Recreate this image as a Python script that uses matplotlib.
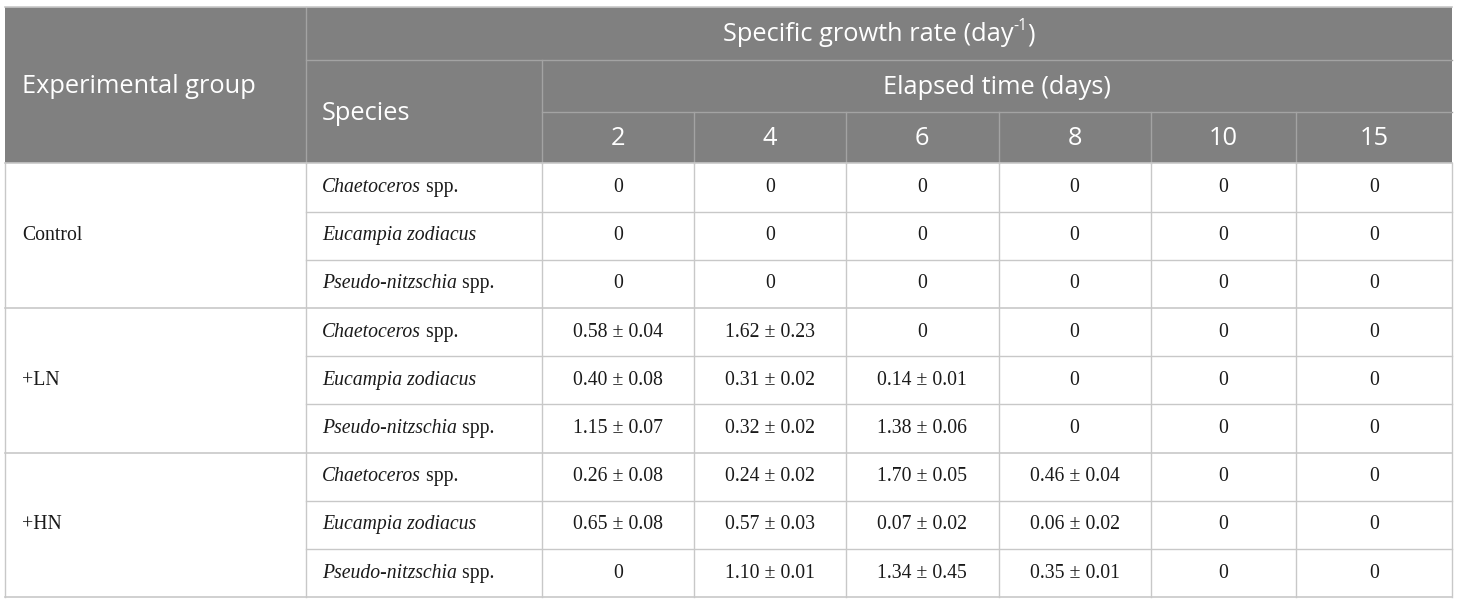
import matplotlib
matplotlib.use("Agg")
import matplotlib.pyplot as plt

# ── Table content ────────────────────────────────────────────────────────────
GROUPS = ["Control", "+LN", "+HN"]
SPECIES_ITALIC = ["Chaetoceros", "Eucampia zodiacus", "Pseudo-nitzschia"]
SPECIES_SUFFIX = [" spp.", "", " spp."]
DAYS = ["2", "4", "6", "8", "10", "15"]

# mean growth rate per row (group x species), columns = days
MEAN = [
    [0, 0, 0, 0, 0, 0],
    [0, 0, 0, 0, 0, 0],
    [0, 0, 0, 0, 0, 0],
    [0.58, 1.62, 0, 0, 0, 0],
    [0.40, 0.31, 0.14, 0, 0, 0],
    [1.15, 0.32, 1.38, 0, 0, 0],
    [0.26, 0.24, 1.70, 0.46, 0, 0],
    [0.65, 0.57, 0.07, 0.06, 0, 0],
    [0, 1.10, 1.34, 0.35, 0, 0],
]
SD = [
    [0, 0, 0, 0, 0, 0],
    [0, 0, 0, 0, 0, 0],
    [0, 0, 0, 0, 0, 0],
    [0.04, 0.23, 0, 0, 0, 0],
    [0.08, 0.02, 0.01, 0, 0, 0],
    [0.07, 0.02, 0.06, 0, 0, 0],
    [0.08, 0.02, 0.05, 0.04, 0, 0],
    [0.08, 0.03, 0.02, 0.02, 0, 0],
    [0, 0.01, 0.45, 0.01, 0, 0],
]

# ── Layout (pixels) ─────────────────────────────────────────────────────────
W, H = 1460, 606
COL_X = [5, 306, 541.7, 694, 846, 998.5, 1150.7, 1296, 1452]
HEAD_Y = [7, 60, 112, 163.3]
BODY_BOTTOM = 597.3
ROW_H = (BODY_BOTTOM - HEAD_Y[-1]) / 9

HEAD_BG = "#808080"
HEAD_LINE = "#a3a3a3"
BODY_LINE = "#c8c8c8"
HEAD_FONT = "Open Sans"
BODY_FONT = "Liberation Serif"
TXT = "#1a1a1a"

fig = plt.figure(figsize=(W / 100, H / 100), dpi=100)
ax = fig.add_axes([0, 0, 1, 1])
ax.set_xlim(0, W)
ax.set_ylim(H, 0)
ax.axis("off")

x0, x1 = COL_X[0], COL_X[-1]
ytop, yhead = HEAD_Y[0], HEAD_Y[-1]

# header background
ax.fill_between([x0, x1], ytop, yhead, color=HEAD_BG, lw=0)

# header lines
ax.plot([COL_X[1], COL_X[1]], [ytop, yhead], color=HEAD_LINE, lw=1)
ax.plot([COL_X[1], x1], [HEAD_Y[1], HEAD_Y[1]], color=HEAD_LINE, lw=1)
ax.plot([COL_X[2], COL_X[2]], [HEAD_Y[1], yhead], color=HEAD_LINE, lw=1)
ax.plot([COL_X[2], x1], [HEAD_Y[2], HEAD_Y[2]], color=HEAD_LINE, lw=1)
for cx in COL_X[3:-1]:
    ax.plot([cx, cx], [HEAD_Y[2], yhead], color=HEAD_LINE, lw=1)
ax.plot([x0, x1], [ytop, ytop], color=BODY_LINE, lw=1.2)

# body lines
row_y = [yhead + i * ROW_H for i in range(10)]
for cx in COL_X:
    ax.plot([cx, cx], [yhead, BODY_BOTTOM], color=BODY_LINE, lw=1)
for i, ry in enumerate(row_y):
    left = x0 if i % 3 == 0 else COL_X[1]
    ax.plot([left, x1], [ry, ry], color=BODY_LINE, lw=1.2 if i % 3 == 0 else 1)

fig.canvas.draw()
renderer = fig.canvas.get_renderer()
inv = ax.transData.inverted()

# header text
hs = 18.3
ax.text(COL_X[0] + 17, (ytop + yhead) / 2 + 1, "Experimental group", color="white",
        fontsize=hs, family=HEAD_FONT, ha="left", va="center")
ax.text(COL_X[1] + 16, (HEAD_Y[1] + yhead) / 2 + 2, "Species", color="white",
        fontsize=hs, family=HEAD_FONT, ha="left", va="center")

# top spanning header: main text plus a small "-1" superscript
main = "Specific growth rate (day"
sup, tail = "-1", ")"
yc_top = (HEAD_Y[0] + HEAD_Y[1]) / 2 + 1
parts = [ax.text(0, yc_top, main, color="white", fontsize=hs, family=HEAD_FONT,
                 ha="left", va="center"),
         ax.text(0, yc_top - 8, sup, color="white", fontsize=hs * 0.62,
                 family=HEAD_FONT, ha="left", va="center"),
         ax.text(0, yc_top, tail, color="white", fontsize=hs, family=HEAD_FONT,
                 ha="left", va="center")]
widths = []
for p in parts:
    bb = p.get_window_extent(renderer=renderer)
    widths.append(inv.transform((bb.x1, 0))[0] - inv.transform((bb.x0, 0))[0])
xs = (COL_X[1] + x1) / 2 - sum(widths) / 2
for p, w in zip(parts, widths):
    p.set_x(xs)
    xs += w

ax.text((COL_X[2] + x1) / 2, (HEAD_Y[1] + HEAD_Y[2]) / 2 + 1, "Elapsed time (days)",
        color="white", fontsize=hs, family=HEAD_FONT, ha="center", va="center")
for j, d in enumerate(DAYS):
    ax.text((COL_X[j + 2] + COL_X[j + 3]) / 2, (HEAD_Y[2] + yhead) / 2 + 1, d,
            color="white", fontsize=hs, family=HEAD_FONT, ha="center", va="center")

# body text
bs = 14.2
for g, name in enumerate(GROUPS):
    ax.text(COL_X[0] + 17, (row_y[3 * g] + row_y[3 * g + 3]) / 2, name,
            fontsize=bs, family=BODY_FONT, color=TXT, ha="left", va="center")

for r in range(9):
    yc = (row_y[r] + row_y[r + 1]) / 2
    s = r % 3
    t = ax.text(COL_X[1] + 16, yc, SPECIES_ITALIC[s], fontsize=bs, family=BODY_FONT,
                style="italic", color=TXT, ha="left", va="center")
    if SPECIES_SUFFIX[s]:
        bb = t.get_window_extent(renderer=renderer)
        xe = inv.transform((bb.x1, bb.y0))[0]
        ax.text(xe, yc, SPECIES_SUFFIX[s], fontsize=bs, family=BODY_FONT,
                color=TXT, ha="left", va="center")
    for j in range(len(DAYS)):
        m, sd = MEAN[r][j], SD[r][j]
        label = "0" if m == 0 and sd == 0 else f"{m:.2f} \u00b1 {sd:.2f}"
        ax.text((COL_X[j + 2] + COL_X[j + 3]) / 2, yc, label, fontsize=bs,
                family=BODY_FONT, color=TXT, ha="center", va="center")

fig.savefig("out.png", dpi=100)
